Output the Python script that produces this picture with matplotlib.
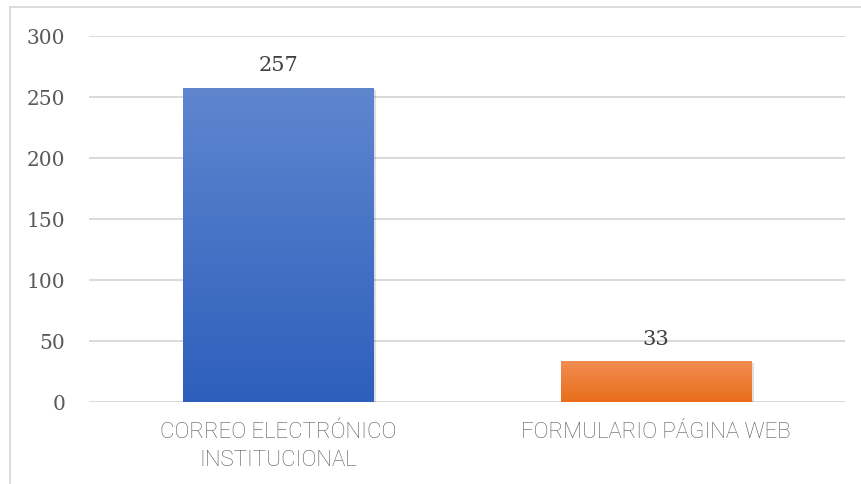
import matplotlib
matplotlib.use("Agg")
import matplotlib.pyplot as plt
import numpy as np
from matplotlib.colors import LinearSegmentedColormap
from matplotlib.patches import Rectangle

categories = ["CORREO ELECTRÓNICO\nINSTITUCIONAL", "FORMULARIO PÁGINA WEB"]
values = [257, 33]
yticks = [0, 50, 100, 150, 200, 250, 300]
grad_colors = [("#2d5fbc", "#5f86cf"), ("#e96d1a", "#f18d52")]

W, H = 861, 485
fig = plt.figure(figsize=(W / 100, H / 100), dpi=100)
fig.patch.set_facecolor("white")

# outer border (left and top)
fig.add_artist(plt.Line2D([10 / W, 10 / W], [1 / H, 1 - 8 / H], transform=fig.transFigure,
                          color="#d9d9d9", linewidth=1.3))
fig.add_artist(plt.Line2D([10 / W, 1], [1 - 8 / H, 1 - 8 / H], transform=fig.transFigure,
                          color="#d9d9d9", linewidth=1.3))

ax = fig.add_axes([89 / W, 1 - 402.7 / H, (845 - 89) / W, (402.7 - 36.7) / H])
ax.set_xlim(-0.5, 1.5)
ax.set_ylim(0, 300)
ax.set_facecolor("none")
for s in ax.spines.values():
    s.set_visible(False)
ax.set_yticks(yticks)
ax.yaxis.grid(True, color="#d9d9d9", linewidth=1.4)
ax.set_axisbelow(True)
ax.tick_params(axis="both", length=0)
ax.tick_params(axis="y", pad=17, labelcolor="#595959")
ax.tick_params(axis="x", pad=14, labelcolor="#595959")
for lbl in ax.get_yticklabels():
    lbl.set_fontfamily(["DejaVu Serif"])
    lbl.set_fontsize(14.5)

x = np.arange(len(categories))
bars = ax.bar(x, values, width=0.503, color="none", zorder=2)
ax.set_xticks(x)
ax.set_xticklabels(categories, fontsize=16, linespacing=1.4,
                   family=["Roboto", "DejaVu Sans"], fontweight="light")

for bar, (c0, c1), v in zip(bars, grad_colors, values):
    bx, by = bar.get_x(), bar.get_y()
    bw, bh = bar.get_width(), bar.get_height()
    # soft shadow
    sh = Rectangle((bx + 0.004, by - 1.2), bw + 0.004, bh, facecolor="#000000",
                   alpha=0.12, edgecolor="none", zorder=1.5)
    ax.add_patch(sh)
    cmap = LinearSegmentedColormap.from_list("g", [c0, c1])
    grad = np.linspace(0, 1, 256).reshape(-1, 1)
    im = ax.imshow(grad, cmap=cmap, aspect="auto", origin="lower",
                   extent=(bx, bx + bw, by, by + bh), zorder=2)
    clip = Rectangle((bx, by), bw, bh, transform=ax.transData)
    im.set_clip_path(clip)
    ax.annotate(str(v), (bx + bw / 2, by + bh), xytext=(0, 10), textcoords="offset points",
                ha="center", va="bottom", fontsize=15, color="#404040",
                family=["DejaVu Serif"])

ax.set_xlim(-0.5, 1.5)
ax.set_ylim(0, 300)

fig.savefig("out.png", dpi=100, facecolor="white")
